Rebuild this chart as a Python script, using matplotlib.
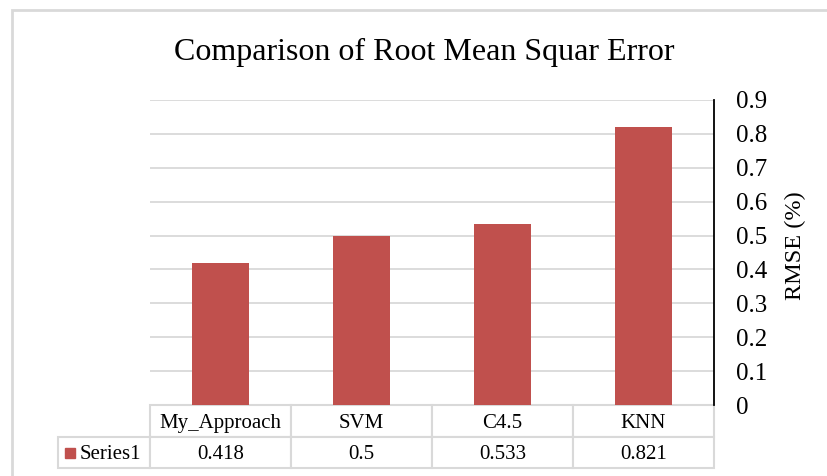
import matplotlib.pyplot as plt
from matplotlib.patches import Rectangle

# data
categories = ['My_Approach', 'SVM', 'C4.5', 'KNN']
rmse = [0.418, 0.5, 0.533, 0.821]
series_name = 'Series1'
y_ticks = [0, 0.1, 0.2, 0.3, 0.4, 0.5, 0.6, 0.7, 0.8, 0.9]

bar_color = '#C0504D'
grid_color = '#D9D9D9'

plt.rcParams['font.family'] = ['Liberation Serif', 'DejaVu Serif']

W, H = 828, 476
fig = plt.figure(figsize=(W / 100, H / 100), dpi=100)

# plot area in pixel terms: x 150..714, y 100..405
ax = fig.add_axes([150 / W, (H - 405) / H, 564 / W, 305 / H])

x = range(len(categories))
ax.bar(x, rmse, width=0.4, color=bar_color, zorder=2)
ax.set_xlim(-0.5, len(categories) - 0.5)
ax.set_ylim(0, 0.9)

ax.set_yticks(y_ticks)
ax.set_yticklabels(['0' if v == 0 else f'{v:.1f}' for v in y_ticks])
ax.yaxis.tick_right()
ax.tick_params(axis='y', length=0, pad=16, labelsize=18)
ax.set_xticks([])

for side in ['top', 'left', 'bottom']:
    ax.spines[side].set_visible(False)
ax.spines['right'].set_color('black')
ax.spines['right'].set_linewidth(1.3)

ax.grid(axis='y', color=grid_color, linewidth=1.3)
ax.set_axisbelow(True)

# data table under the bars (Excel style)
tbl = ax.table(cellText=[[f'{v:g}' for v in rmse]],
               colLabels=categories,
               cellLoc='center',
               bbox=[0, -63 / 305, 1, 63 / 305])
tbl.add_cell(1, -1, width=92 / 564, height=tbl[1, 0].get_height(),
             text=series_name, loc='right')
tbl.auto_set_font_size(False)
tbl.set_fontsize(15)
for cell in tbl.get_celld().values():
    cell.set_edgecolor(grid_color)
    cell.set_linewidth(1.5)
    cell.get_text().set_va('center_baseline')

# legend key inside the row label cell
ax.plot([-0.1427], [-0.157], marker='s', markersize=6.5, color=bar_color,
        linestyle='none', transform=ax.transAxes, clip_on=False)

# title and axis label
fig.text(424 / W, (H - 60) / H, 'Comparison of Root Mean Squar Error',
         ha='center', va='baseline', fontsize=23)
fig.text(795 / W, (H - 246) / H, 'RMSE (%)', rotation=90,
         ha='center', va='center', fontsize=17.5)

# chart area border
fig.add_artist(Rectangle((12 / W, -0.1), 1.2, (H - 10) / H + 0.1,
                         transform=fig.transFigure, fill=False,
                         edgecolor=grid_color, linewidth=2))

fig.savefig('out.png', dpi=100)
